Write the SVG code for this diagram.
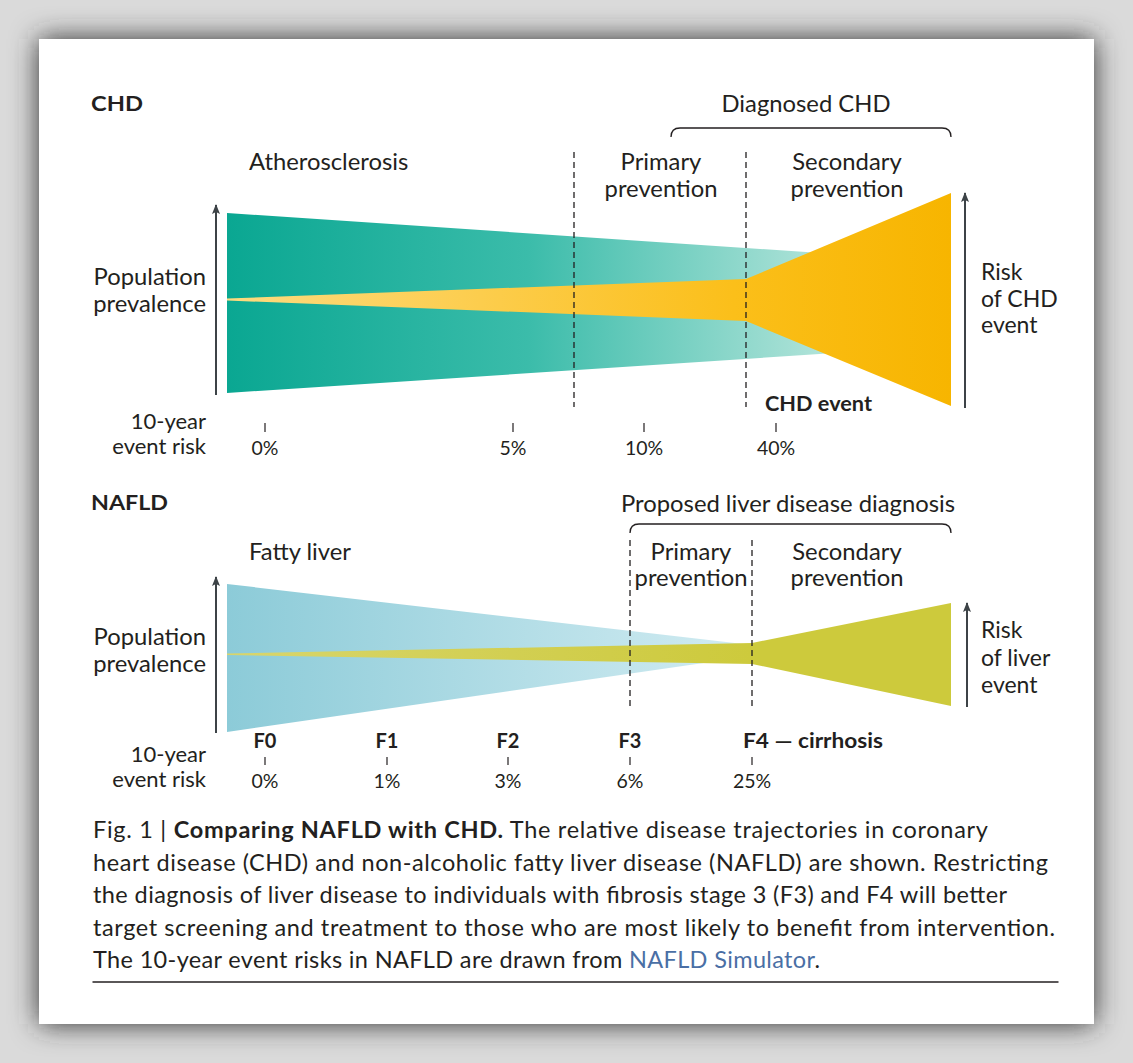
<svg xmlns="http://www.w3.org/2000/svg" width="1133" height="1063" viewBox="0 0 1133 1063">
<defs>
<filter id="sh" x="-10%" y="-10%" width="120%" height="120%"><feGaussianBlur stdDeviation="14"/></filter>
<linearGradient id="gGreen" gradientUnits="userSpaceOnUse" x1="227" y1="0" x2="830" y2="0"><stop offset="0" stop-color="#0aa792"/><stop offset="0.5" stop-color="#3bbcaa"/><stop offset="1" stop-color="#b3e4da"/></linearGradient>
<linearGradient id="gYellow" gradientUnits="userSpaceOnUse" x1="227" y1="0" x2="951" y2="0"><stop offset="0" stop-color="#fddb80"/><stop offset="0.7" stop-color="#fbbf1a"/><stop offset="1" stop-color="#f7b500"/></linearGradient>
<linearGradient id="gBlue" gradientUnits="userSpaceOnUse" x1="227" y1="0" x2="752" y2="0"><stop offset="0" stop-color="#8ccbd8"/><stop offset="1" stop-color="#d2ecf2"/></linearGradient>
<linearGradient id="gOlive" gradientUnits="userSpaceOnUse" x1="227" y1="0" x2="752" y2="0"><stop offset="0" stop-color="#d8d56c"/><stop offset="1" stop-color="#cdca3c"/></linearGradient>
<marker id="ah" markerUnits="userSpaceOnUse" markerWidth="10" markerHeight="10" refX="9" refY="4" orient="auto"><path d="M0,0 L10,4 L0,8 L2,4 z" fill="#3d4347"/></marker>
<style>
text{font-family:Lato,"Open Sans","Liberation Sans",sans-serif;fill:#231f20}
.lb{font-size:23.8px}
.rk{font-size:23px}
.yr{font-size:22px}
.hd{font-size:21px;font-weight:bold}
.bl{font-size:20px;font-weight:bold}
.pc{font-size:19.5px}
.cap{font-size:23.5px}
.m{text-anchor:middle}
.e{text-anchor:end}
.dash{stroke:#231f20;stroke-width:1.3;stroke-dasharray:6 4;fill:none}
.br{stroke:#231f20;stroke-width:1.3;fill:none}
.tk{stroke:#231f20;stroke-width:1.2}
.ax{stroke:#3d4347;stroke-width:2;fill:none;marker-end:url(#ah)}
</style>
</defs>
<rect width="1133" height="1063" fill="#dadada"/>
<rect x="39" y="39" width="1055" height="985" fill="#2e2e2e" filter="url(#sh)"/>
<rect x="39" y="39" width="1055" height="985" fill="#fff"/>

<g id="chd">
<text class="hd" x="91" y="111" textLength="52" lengthAdjust="spacingAndGlyphs">CHD</text>
<text class="lb m" x="806" y="112">Diagnosed CHD</text>
<text class="lb" x="249" y="170">Atherosclerosis</text>
<text class="lb m" x="661" y="170">Primary</text>
<text class="lb m" x="661" y="197">prevention</text>
<text class="lb m" x="847" y="170">Secondary</text>
<text class="lb m" x="847" y="197">prevention</text>
<polygon points="227,213 850,255 850,352 227,393" fill="url(#gGreen)"/>
<polygon points="227,298.5 746,279 951,193 951,406 746,321 227,300.5" fill="url(#gYellow)"/>
<text class="lb e" x="206" y="285">Population</text>
<text class="lb e" x="206" y="312">prevalence</text>
<text class="rk" x="981" y="280">Risk</text>
<text class="rk" x="981" y="307">of CHD</text>
<text class="rk" x="981" y="333">event</text>
<text class="bl" x="765" y="411" textLength="107" lengthAdjust="spacingAndGlyphs">CHD event</text>
<text class="yr e" x="206" y="429">10-year</text>
<text class="yr e" x="206" y="454">event risk</text>
<text class="pc m" x="265" y="455">0%</text>
<text class="pc m" x="513" y="455">5%</text>
<text class="pc m" x="644" y="455">10%</text>
<text class="pc m" x="776" y="455">40%</text>
</g>

<g id="nafld">
<text class="hd" x="91" y="510" textLength="77" lengthAdjust="spacingAndGlyphs">NAFLD</text>
<text class="lb m" x="788" y="512">Proposed liver disease diagnosis</text>
<text class="lb" x="249" y="560">Fatty liver</text>
<text class="lb m" x="691" y="560">Primary</text>
<text class="lb m" x="691" y="586">prevention</text>
<text class="lb m" x="847" y="560">Secondary</text>
<text class="lb m" x="847" y="586">prevention</text>
<polygon points="227,584 752,645 752,656 227,732" fill="url(#gBlue)"/>
<polygon points="227,653.5 752,643 951,603 951,706 752,664 227,655" fill="url(#gOlive)"/>
<text class="lb e" x="206" y="645">Population</text>
<text class="lb e" x="206" y="672">prevalence</text>
<text class="rk" x="981" y="638">Risk</text>
<text class="rk" x="981" y="666">of liver</text>
<text class="rk" x="981" y="693">event</text>
<text class="bl m" x="265" y="748">F0</text>
<text class="bl m" x="387" y="748">F1</text>
<text class="bl m" x="508" y="748">F2</text>
<text class="bl m" x="630" y="748">F3</text>
<text class="bl" x="743" y="748" textLength="140" lengthAdjust="spacingAndGlyphs">F4 — cirrhosis</text>
<text class="yr e" x="206" y="762">10-year</text>
<text class="yr e" x="206" y="787">event risk</text>
<text class="pc m" x="265" y="788">0%</text>
<text class="pc m" x="387" y="788">1%</text>
<text class="pc m" x="508" y="788">3%</text>
<text class="pc m" x="630" y="788">6%</text>
<text class="pc m" x="752" y="788">25%</text>
</g>

<g id="connectors">
<path class="br" d="M671,137 Q671,128 680,128 L942,128 Q951,128 951,137"/>
<line class="dash" x1="574" y1="152" x2="574" y2="407"/>
<line class="dash" x1="746" y1="152" x2="746" y2="407"/>
<line class="ax" x1="216" y1="395" x2="216" y2="205"/>
<line class="ax" x1="965" y1="408" x2="965" y2="193"/>
<line class="tk" x1="265" y1="423" x2="265" y2="432"/>
<line class="tk" x1="513" y1="423" x2="513" y2="432"/>
<line class="tk" x1="644" y1="423" x2="644" y2="432"/>
<line class="tk" x1="776" y1="423" x2="776" y2="432"/>
<path class="br" d="M630,533 Q630,524 639,524 L942,524 Q951,524 951,533"/>
<line class="dash" x1="630" y1="540" x2="630" y2="707"/>
<line class="dash" x1="752" y1="540" x2="752" y2="707"/>
<line class="ax" x1="216" y1="733" x2="216" y2="577"/>
<line class="ax" x1="967" y1="707" x2="967" y2="603"/>
<line class="tk" x1="265" y1="757" x2="265" y2="765"/>
<line class="tk" x1="387" y1="757" x2="387" y2="765"/>
<line class="tk" x1="508" y1="757" x2="508" y2="765"/>
<line class="tk" x1="630" y1="757" x2="630" y2="765"/>
<line class="tk" x1="752" y1="757" x2="752" y2="765"/>
</g>

<g id="caption">
<text class="cap" x="93" y="838" textLength="895" lengthAdjust="spacing">Fig. 1 | <tspan font-weight="bold">Comparing NAFLD with CHD.</tspan> The relative disease trajectories in coronary</text>
<text class="cap" x="93" y="870.5" textLength="955" lengthAdjust="spacing">heart disease (CHD) and non-alcoholic fatty liver disease (NAFLD) are shown. Restricting</text>
<text class="cap" x="93" y="903" textLength="914" lengthAdjust="spacing">the diagnosis of liver disease to individuals with fibrosis stage 3 (F3) and F4 will better</text>
<text class="cap" x="93" y="935.5" textLength="962" lengthAdjust="spacing">target screening and treatment to those who are most likely to benefit from intervention.</text>
<text class="cap" x="93" y="968" textLength="727" lengthAdjust="spacing">The 10-year event risks in NAFLD are drawn from <tspan fill="#4a6fa5">NAFLD Simulator</tspan>.</text>
<line x1="92.5" y1="982" x2="1058.5" y2="982" stroke="#231f20" stroke-width="1.5"/>
</g>
</svg>
